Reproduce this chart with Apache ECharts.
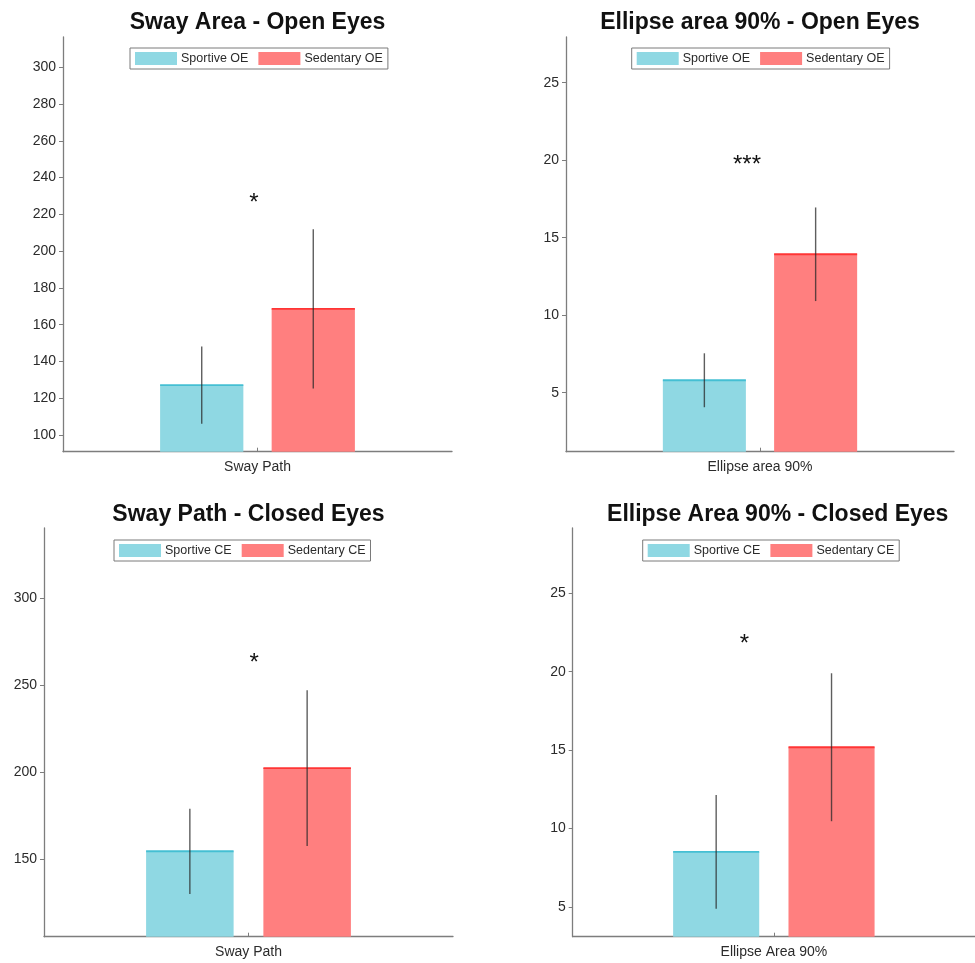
<!DOCTYPE html>
<html>
<head>
<meta charset="utf-8">
<style>html,body{margin:0;padding:0;background:#fff}#c{width:975px;height:963px}</style>
<script src="https://cdn.jsdelivr.net/npm/echarts@6/dist/echarts.min.js"></script>
</head>
<body>
<div id="c"></div>
<script>
// ---- data ----
const titles = ['Sway Area - Open Eyes', 'Ellipse area 90% - Open Eyes', 'Sway Path - Closed Eyes', 'Ellipse Area 90% - Closed Eyes'];
const categories = ['Sway Path', 'Ellipse area 90%', 'Sway Path', 'Ellipse Area 90%'];
const sportiveNames = ['Sportive OE', 'Sportive OE', 'Sportive CE', 'Sportive CE'];
const sedentaryNames = ['Sedentary OE', 'Sedentary OE', 'Sedentary CE', 'Sedentary CE'];
const sportiveMean = [127.1, 5.8, 154.6, 8.5];
const sportiveErr = [21, 1.74, 24.5, 3.63];
const sedentaryMean = [168.6, 13.93, 202.4, 15.18];
const sedentaryErr = [43.3, 3.02, 44.7, 4.72];
const starText = ['*', '***', '*', '*'];
const starY = [229, 20.05, 265.7, 22.07];
const starX = [-0.009, -0.0335, 0.0137, -0.073];
const yTicks = [[100, 120, 140, 160, 180, 200, 220, 240, 260, 280, 300], [5, 10, 15, 20, 25], [150, 200, 250, 300], [5, 10, 15, 20, 25]];
const yMin = [90.9, 1.19, 105.5, 3.09];
const yMax = [316.5, 27.95, 340.4, 29.17];

// ---- layout / style ----
const grids = [
  {left: 63, top: 37, width: 389, height: 414.7},
  {left: 566, top: 37, width: 388, height: 414.7},
  {left: 44, top: 528, width: 409, height: 408.7},
  {left: 572.7, top: 528, width: 410, height: 408.7}
];
const titleTop = [11, 11, 503, 503];
const legendPos = [[130, 48], [631.7, 48], [114, 540], [642.7, 540]];
const BW = 0.214, GAP = 0.34;
const OFF = BW * (1 + GAP) / 2;
const FONT = "'Liberation Sans', Arial, Helvetica, sans-serif";
const CYAN = '#8fd8e3', CYAN_EDGE = '#45bfd3';
const RED = '#ff7f7f', RED_EDGE = '#ff3535';
const AXIS = '#7d7d7d', TXT = '#2b2b2b';

const option = {
  backgroundColor: '#fff',
  animation: false,
  textStyle: {fontFamily: FONT},
  title: [], legend: [], grid: [], xAxis: [], yAxis: [], series: []
};

for (let i = 0; i < 4; i++) {
  const g = grids[i];
  option.grid.push({left: g.left, top: g.top, width: g.width, height: g.height, containLabel: false});
  option.title.push({
    text: titles[i], left: g.left + g.width / 2, top: titleTop[i], textAlign: 'center', padding: 0,
    textStyle: {fontFamily: FONT, fontSize: 23, fontWeight: 'bold', color: '#111'}
  });
  option.legend.push({
    data: [sportiveNames[i] + '\u200b'.repeat(i), sedentaryNames[i] + '\u200b'.repeat(i)],
    left: legendPos[i][0], top: legendPos[i][1], orient: 'horizontal',
    padding: [4, 5], itemGap: 10, itemWidth: 42, itemHeight: 13,
    borderColor: '#7a7a7a', borderWidth: 1, borderRadius: 0, icon: 'rect',
    selectedMode: false,
    textStyle: {fontFamily: FONT, fontSize: 12.5, color: TXT, padding: [0, 0, 0, -1]}
  });
  option.xAxis.push({
    type: 'category', gridIndex: i, data: [categories[i]],
    axisLine: {show: true, onZero: false, lineStyle: {color: AXIS, width: 1.3}},
    axisTick: {show: true, alignWithLabel: true, inside: true, length: 4, lineStyle: {color: AXIS}},
    axisLabel: {fontFamily: FONT, fontSize: 14, color: TXT, margin: 8},
    splitLine: {show: false}
  });
  option.xAxis.push({
    type: 'value', gridIndex: i, min: -0.5, max: 0.5, show: false,
    axisLine: {onZero: false}
  });
  option.yAxis.push({
    type: 'value', gridIndex: i, min: yMin[i], max: yMax[i], position: 'left',
    axisLine: {show: true, onZero: false, lineStyle: {color: AXIS, width: 1.3}},
    axisTick: {show: true, length: 4, customValues: yTicks[i], lineStyle: {color: AXIS}},
    axisLabel: {fontFamily: FONT, fontSize: 14, color: TXT, margin: 7, customValues: yTicks[i]},
    splitLine: {show: false}
  });
  option.series.push({
    type: 'bar', name: sportiveNames[i] + '\u200b'.repeat(i), xAxisIndex: 2 * i, yAxisIndex: i,
    data: [sportiveMean[i]], barWidth: (BW * 100) + '%', barGap: (GAP * 100) + '%',
    itemStyle: {color: CYAN}
  });
  option.series.push({
    type: 'bar', name: sedentaryNames[i] + '\u200b'.repeat(i), xAxisIndex: 2 * i, yAxisIndex: i,
    data: [sedentaryMean[i]], barWidth: (BW * 100) + '%', barGap: (GAP * 100) + '%',
    itemStyle: {color: RED}
  });
  option.series.push({
    type: 'custom', xAxisIndex: 2 * i + 1, yAxisIndex: i, z: 5, silent: true,
    data: [[-OFF, sportiveMean[i], sportiveErr[i], 0], [OFF, sedentaryMean[i], sedentaryErr[i], 1]],
    renderItem: function (params, api) {
      const x = api.value(0), m = api.value(1), e = api.value(2), k = api.value(3);
      const a = api.coord([x - BW / 2, m]), b = api.coord([x + BW / 2, m]);
      const p1 = api.coord([x, m + e]), p2 = api.coord([x, m - e]);
      return {
        type: 'group', children: [
          {type: 'line', shape: {x1: a[0], y1: a[1], x2: b[0], y2: b[1]},
           style: {stroke: k ? RED_EDGE : CYAN_EDGE, lineWidth: 1.8}},
          {type: 'line', shape: {x1: p1[0], y1: p1[1], x2: p2[0], y2: p2[1]},
           style: {stroke: 'rgba(40,40,40,0.75)', lineWidth: 1.4}}
        ]
      };
    }
  });
  option.series.push({
    type: 'custom', xAxisIndex: 2 * i + 1, yAxisIndex: i, z: 6, silent: true,
    data: [[starX[i], starY[i], i]],
    renderItem: function (params, api) {
      const p = api.coord([api.value(0), api.value(1)]);
      return {
        type: 'text', x: p[0], y: p[1] + 5.5,
        style: {text: starText[api.value(2)], fontFamily: FONT, fontSize: 24, fill: '#111',
                align: 'center', verticalAlign: 'middle'}
      };
    }
  });
}

const chart = echarts.init(document.getElementById('c'), null, {renderer: 'canvas'});
chart.setOption(option);
</script>
</body>
</html>
